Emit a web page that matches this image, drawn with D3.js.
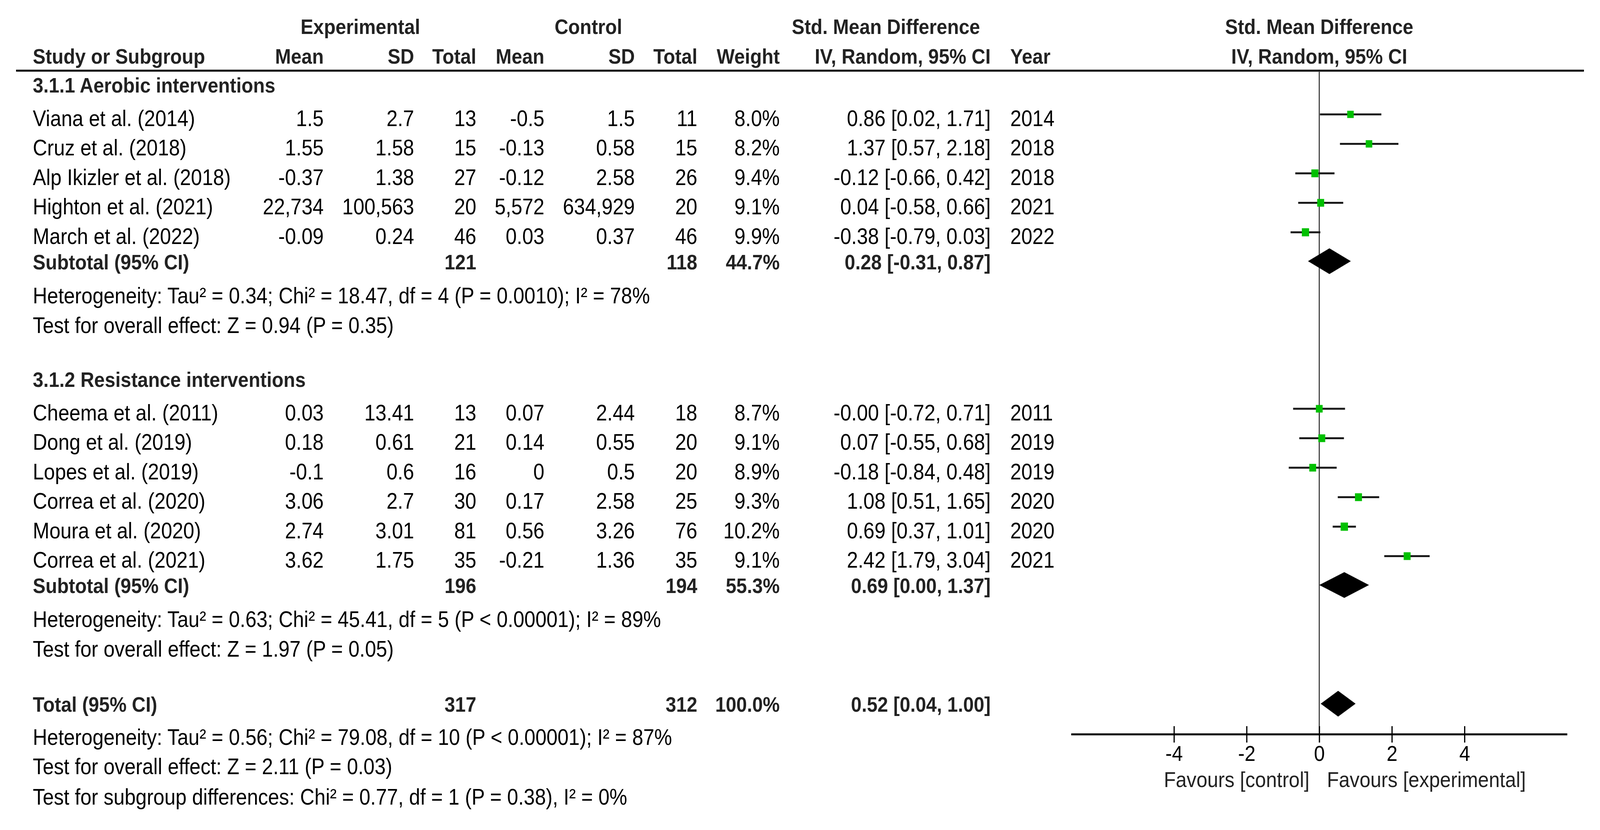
<!DOCTYPE html>
<html>
<head>
<meta charset="utf-8">
<script src="https://cdn.jsdelivr.net/npm/d3@7"></script>
<style>
  html, body { margin: 0; padding: 0; background: #fff; overflow: hidden; width: 100%; height: 100%; }
  svg { display: block; width: 100vw; height: 100vh; }
</style>
</head>
<body>
<script>
// ---------------- DATA ----------------
const groupNames = ["3.1.1 Aerobic interventions", "3.1.2 Resistance interventions"];
const studies = ["Viana et al. (2014)", "Cruz et al. (2018)", "Alp Ikizler et al. (2018)", "Highton et al. (2021)", "March et al. (2022)",
                 "Cheema et al. (2011)", "Dong et al. (2019)", "Lopes et al. (2019)", "Correa et al. (2020)", "Moura et al. (2020)", "Correa et al. (2021)"];
const studyGroup = [0, 0, 0, 0, 0, 1, 1, 1, 1, 1, 1];
const expMean = ["1.5", "1.55", "-0.37", "22,734", "-0.09", "0.03", "0.18", "-0.1", "3.06", "2.74", "3.62"];
const expSD   = ["2.7", "1.58", "1.38", "100,563", "0.24", "13.41", "0.61", "0.6", "2.7", "3.01", "1.75"];
const expN    = [13, 15, 27, 20, 46, 13, 21, 16, 30, 81, 35];
const ctrlMean = ["-0.5", "-0.13", "-0.12", "5,572", "0.03", "0.07", "0.14", "0", "0.17", "0.56", "-0.21"];
const ctrlSD   = ["1.5", "0.58", "2.58", "634,929", "0.37", "2.44", "0.55", "0.5", "2.58", "3.26", "1.36"];
const ctrlN    = [11, 15, 26, 20, 46, 18, 20, 20, 25, 76, 35];
const weights  = [8.0, 8.2, 9.4, 9.1, 9.9, 8.7, 9.1, 8.9, 9.3, 10.2, 9.1];
const smd      = ["0.86", "1.37", "-0.12", "0.04", "-0.38", "-0.00", "0.07", "-0.18", "1.08", "0.69", "2.42"];
const ciLow    = ["0.02", "0.57", "-0.66", "-0.58", "-0.79", "-0.72", "-0.55", "-0.84", "0.51", "0.37", "1.79"];
const ciHigh   = ["1.71", "2.18", "0.42", "0.66", "0.03", "0.71", "0.68", "0.48", "1.65", "1.01", "3.04"];
const years    = [2014, 2018, 2018, 2021, 2022, 2011, 2019, 2019, 2020, 2020, 2021];

const subExpN   = [121, 196];
const subCtrlN  = [118, 194];
const subWeight = ["44.7", "55.3"];
const subSmd    = ["0.28", "0.69"];
const subLow    = ["-0.31", "0.00"];
const subHigh   = ["0.87", "1.37"];
const subHet    = ["Heterogeneity: Tau\u00B2 = 0.34; Chi\u00B2 = 18.47, df = 4 (P = 0.0010); I\u00B2 = 78%",
                   "Heterogeneity: Tau\u00B2 = 0.63; Chi\u00B2 = 45.41, df = 5 (P < 0.00001); I\u00B2 = 89%"];
const subTest   = ["Test for overall effect: Z = 0.94 (P = 0.35)", "Test for overall effect: Z = 1.97 (P = 0.05)"];

const totalExpN = 317, totalCtrlN = 312, totalWeight = "100.0";
const totalSmd = "0.52", totalLow = "0.04", totalHigh = "1.00";
const totalTexts = ["Heterogeneity: Tau\u00B2 = 0.56; Chi\u00B2 = 79.08, df = 10 (P < 0.00001); I\u00B2 = 87%",
                    "Test for overall effect: Z = 2.11 (P = 0.03)",
                    "Test for subgroup differences: Chi\u00B2 = 0.77, df = 1 (P = 0.38), I\u00B2 = 0%"];

const axisTicks = [-4, -2, 0, 2, 4];
const axisExtent = 6.83;
const favourLabels = ["Favours [control]", "Favours [experimental]"];

// ---------------- LAYOUT ----------------
const W = 4582, H = 2126;
const FONT = "'Liberation Sans', Arial, Helvetica, sans-serif";
const FS = 57, FSB = 54.5, FSA = 56;
const col = { name: 94, eMean: 927, eSD: 1186, eN: 1364, cMean: 1559, cSD: 1818, cN: 1997, weight: 2233, ci: 2837, year: 2893 };

const svg = d3.select("body").append("svg")
  .attr("viewBox", `0 0 ${W} ${H}`)
  .attr("preserveAspectRatio", "none")
  .style("font-family", FONT)
  .style("font-size", FS + "px");

svg.append("rect").attr("width", W).attr("height", H).attr("fill", "#fff");

const x = d3.scaleLinear().domain([-4, 4]).range([3362, 4194]);
const sq = d3.scaleSqrt().domain([0, 10.2]).range([0, 21]);
const ciText = (e, l, h) => `${e} [${l}, ${h}]`;

function txt(xp, yp, s, anchor, bold) {
  svg.append("text")
    .attr("x", xp).attr("y", yp)
    .attr("text-anchor", anchor || "start")
    .attr("font-weight", bold ? "bold" : "normal")
    .attr("font-size", bold ? FSB : FS)
    .attr("fill", bold ? "#222" : "#000")
    .text(s);
}

// Headers
txt(1032, 87, "Experimental", "middle", true);
txt(1685, 87, "Control", "middle", true);
txt(2537, 87, "Std. Mean Difference", "middle", true);
txt(x(0), 87, "Std. Mean Difference", "middle", true);
const h2 = 163;
txt(col.name, h2, "Study or Subgroup", "start", true);
txt(col.eMean, h2, "Mean", "end", true);
txt(col.eSD, h2, "SD", "end", true);
txt(col.eN, h2, "Total", "end", true);
txt(col.cMean, h2, "Mean", "end", true);
txt(col.cSD, h2, "SD", "end", true);
txt(col.cN, h2, "Total", "end", true);
txt(col.weight, h2, "Weight", "end", true);
txt(col.ci, h2, "IV, Random, 95% CI", "end", true);
txt(col.year, h2, "Year", "start", true);
txt(x(0), h2, "IV, Random, 95% CI", "middle", true);

svg.append("line").attr("x1", 46).attr("x2", 4536).attr("y1", 181).attr("y2", 181)
  .attr("stroke", "#000").attr("stroke-width", 5);

// Rows
const rows = [];
let y = 237;
groupNames.forEach((g, gi) => {
  rows.push({ type: "group", gi, y });
  y += 86;
  studies.forEach((s, si) => {
    if (studyGroup[si] !== gi) return;
    rows.push({ type: "study", si, y });
    y += 75.5;
  });
  y += 65 - 75.5;
  rows.push({ type: "sub", gi, y });
  y += 87; rows.push({ type: "note", text: subHet[gi], y });
  y += 76; rows.push({ type: "note", text: subTest[gi], y });
  y += 138;
});
y += 141 - 138;
rows.push({ type: "total", y });
y += 85; rows.push({ type: "note", text: totalTexts[0], y });
y += 75; rows.push({ type: "note", text: totalTexts[1], y });
y += 78; rows.push({ type: "note", text: totalTexts[2], y });

const zeroTop = 181, axisY = 1881;

// zero line
svg.append("line").attr("x1", x(0)).attr("x2", x(0)).attr("y1", zeroTop).attr("y2", axisY)
  .attr("stroke", "#333").attr("stroke-width", 3);

function diamond(e, l, h, cy) {
  const hh = 33;
  svg.append("path")
    .attr("d", `M${x(+l)},${cy} L${x(+e)},${cy - hh} L${x(+h)},${cy} L${x(+e)},${cy + hh} Z`)
    .attr("fill", "#000");
}

rows.forEach(r => {
  if (r.type === "group") {
    txt(col.name, r.y, groupNames[r.gi], "start", true);
  } else if (r.type === "study") {
    const i = r.si;
    txt(col.name, r.y, studies[i]);
    txt(col.eMean, r.y, expMean[i], "end");
    txt(col.eSD, r.y, expSD[i], "end");
    txt(col.eN, r.y, expN[i], "end");
    txt(col.cMean, r.y, ctrlMean[i], "end");
    txt(col.cSD, r.y, ctrlSD[i], "end");
    txt(col.cN, r.y, ctrlN[i], "end");
    txt(col.weight, r.y, weights[i].toFixed(1) + "%", "end");
    txt(col.ci, r.y, ciText(smd[i], ciLow[i], ciHigh[i]), "end");
    txt(col.year, r.y, years[i], "start");
    const cy = r.y - 30;
    svg.append("line").attr("x1", x(+ciLow[i])).attr("x2", x(+ciHigh[i])).attr("y1", cy).attr("y2", cy)
      .attr("stroke", "#1a1a1a").attr("stroke-width", 5);
    const s = sq(weights[i]);
    svg.append("rect").attr("x", x(+smd[i]) - s / 2).attr("y", cy - s / 2)
      .attr("width", s).attr("height", s).attr("fill", "#00c000");
  } else if (r.type === "sub") {
    const g = r.gi;
    txt(col.name, r.y, "Subtotal (95% CI)", "start", true);
    txt(col.eN, r.y, subExpN[g], "end", true);
    txt(col.cN, r.y, subCtrlN[g], "end", true);
    txt(col.weight, r.y, subWeight[g] + "%", "end", true);
    txt(col.ci, r.y, ciText(subSmd[g], subLow[g], subHigh[g]), "end", true);
    diamond(subSmd[g], subLow[g], subHigh[g], r.y - 21);
  } else if (r.type === "total") {
    txt(col.name, r.y, "Total (95% CI)", "start", true);
    txt(col.eN, r.y, totalExpN, "end", true);
    txt(col.cN, r.y, totalCtrlN, "end", true);
    txt(col.weight, r.y, totalWeight + "%", "end", true);
    txt(col.ci, r.y, ciText(totalSmd, totalLow, totalHigh), "end", true);
    diamond(totalSmd, totalLow, totalHigh, r.y - 21);
  } else {
    txt(col.name, r.y, r.text);
  }
});

// Axis
const axisG = svg.append("g").attr("transform", `translate(0,${axisY})`)
  .call(d3.axisBottom(x).tickValues(axisTicks).tickSize(21).tickFormat(d => String(d)));
axisG.select(".domain").remove();
axisG.selectAll(".tick line").attr("y1", -21).attr("y2", 21).attr("stroke", "#000").attr("stroke-width", 3.5);
axisG.selectAll(".tick text").attr("y", 68).attr("dy", 0)
  .attr("font-size", FSA).attr("font-family", FONT).attr("fill", "#000");
axisG.append("line").attr("x1", x(-axisExtent)).attr("x2", x(axisExtent)).attr("y1", 0).attr("y2", 0)
  .attr("stroke", "#000").attr("stroke-width", 5);

svg.append("text").attr("x", x(0) - 28).attr("y", 2016).attr("text-anchor", "end").attr("font-size", FSA).attr("fill", "#222").text(favourLabels[0]);
svg.append("text").attr("x", x(0) + 22).attr("y", 2016).attr("text-anchor", "start").attr("font-size", FSA).attr("fill", "#222").text(favourLabels[1]);
</script>
</body>
</html>
